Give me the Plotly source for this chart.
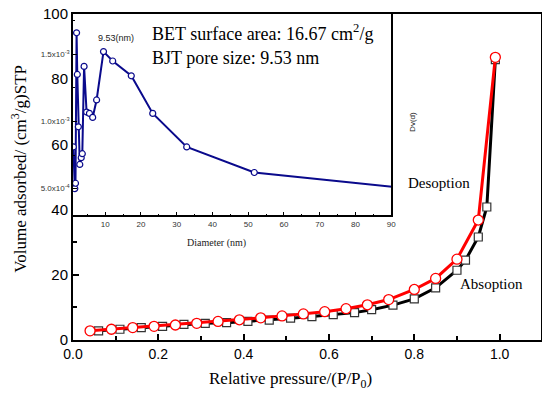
import plotly.graph_objects as go

# Main isotherm data
ads_p = [0.06, 0.11, 0.16, 0.21, 0.26, 0.31, 0.36, 0.41, 0.46, 0.51, 0.56, 0.61, 0.66, 0.70, 0.75, 0.80, 0.85, 0.90, 0.92, 0.95, 0.97, 0.99]
ads_v = [2.8, 3.3, 3.8, 4.2, 4.8, 5.1, 5.3, 5.7, 6.1, 6.7, 7.2, 7.8, 8.4, 9.3, 10.7, 12.6, 16.0, 21.4, 24.5, 31.6, 40.8, 86.0]
des_p = [0.04, 0.09, 0.14, 0.19, 0.24, 0.29, 0.34, 0.39, 0.44, 0.49, 0.54, 0.59, 0.64, 0.69, 0.74, 0.80, 0.85, 0.90, 0.95, 0.99]
des_v = [2.8, 3.3, 3.8, 4.2, 4.6, 5.1, 5.7, 6.2, 6.8, 7.4, 8.0, 8.7, 9.6, 10.8, 12.4, 15.5, 18.9, 24.8, 36.8, 86.7]

# Inset pore size distribution
diam = [1.1, 1.5, 1.7, 2.0, 2.2, 2.5, 2.9, 3.3, 3.6, 4.1, 4.8, 5.6, 6.5, 7.6, 9.53, 12.1, 17.3, 23.3, 32.8, 51.7, 95.0]
dv = [8.1e-4, 5.0e-4, 5.4e-4, 1.66e-3, 1.35e-3, 9.6e-4, 6.8e-4, 7.3e-4, 7.6e-4, 1.41e-3, 1.07e-3, 1.06e-3, 1.03e-3, 1.16e-3, 1.52e-3, 1.45e-3, 1.34e-3, 1.06e-3, 8.1e-4, 6.2e-4, 5.0e-4]

main_yticks = [0, 20, 40, 60, 80, 100]
main_xticks = [0.0, 0.2, 0.4, 0.6, 0.8, 1.0]
inset_xticks = [10, 20, 30, 40, 50, 60, 70, 80, 90]
inset_yticks = [5e-4, 1e-3, 1.5e-3]
inset_ytext = ["5.0x10<sup>-4</sup>", "1.0x10<sup>-3</sup>", "1.5x10<sup>-3</sup>"]

SERIF = "Liberation Serif"
SANS = "Liberation Sans"
NAVY = "#0a0a8c"

fig = go.Figure()
fig.add_trace(go.Scatter(x=ads_p, y=ads_v, mode="lines+markers",
                         line=dict(color="black", width=3),
                         marker=dict(symbol="square", size=8, color="white",
                                     line=dict(color="#333", width=1.2)),
                         xaxis="x", yaxis="y", showlegend=False))
fig.add_trace(go.Scatter(x=des_p, y=des_v, mode="lines+markers",
                         line=dict(color="#ff0000", width=3),
                         marker=dict(symbol="circle", size=10, color="white",
                                     line=dict(color="#ff0000", width=1.3)),
                         xaxis="x", yaxis="y", showlegend=False))
fig.add_trace(go.Scatter(x=diam, y=dv, mode="lines+markers",
                         line=dict(color=NAVY, width=2),
                         marker=dict(symbol="circle", size=6, color="white",
                                     line=dict(color=NAVY, width=1.2)),
                         xaxis="x2", yaxis="y2", showlegend=False))

axis_common = dict(showline=True, linecolor="black", mirror=True, ticks="inside",
                   tickcolor="black", showgrid=False, zeroline=False, automargin=False,
                   ticklabeloverflow="allow")

# page body has an 8px margin, so the figure is sized to fit inside the window
fig.update_layout(
    width=534, height=382,
    margin=dict(l=65, r=1, t=6, b=50, autoexpand=False),
    paper_bgcolor="white", plot_bgcolor="white",
    xaxis=dict(domain=[0, 1], range=[0, 1.097], tickvals=main_xticks,
               ticktext=[f"{v:.1f}" for v in main_xticks], linewidth=2, ticklen=6, tickwidth=1.5,
               minor=dict(dtick=0.1, ticks="inside", ticklen=4, tickcolor="black"),
               tickfont=dict(family=SANS, size=14, color="black"), **axis_common),
    yaxis=dict(domain=[0, 1], range=[0, 100], tickvals=main_yticks, linewidth=2, ticklen=6, tickwidth=1.5,
               minor=dict(dtick=10, ticks="inside", ticklen=4, tickcolor="black"),
               tickfont=dict(family=SANS, size=15, color="black"), **axis_common),
    xaxis2=dict(domain=[0, 0.68], range=[1, 90], anchor="y2", tickvals=inset_xticks,
                linewidth=1.5, ticklen=4, tickwidth=1.2,
                minor=dict(dtick=5, ticks="inside", ticklen=2, tickcolor="black"),
                tickfont=dict(family=SANS, size=8, color="#333"), **axis_common),
    yaxis2=dict(domain=[0.382, 1], range=[3e-4, 1.8e-3], anchor="x2", tickvals=inset_yticks,
                ticktext=inset_ytext, linewidth=1.5, ticklen=4, tickwidth=1.2,
                minor=dict(dtick=2.5e-4, ticks="inside", ticklen=2, tickcolor="black"),
                tickfont=dict(family=SANS, size=8, color="#333"), **axis_common),
)

ann = [
    dict(text="BET surface area: 16.67 cm<sup>2</sup>/g", x=0.18, y=94.2, xref="x", yref="y",
         xanchor="left", yanchor="middle", font=dict(family=SERIF, size=18, color="black")),
    dict(text="BJT pore size: 9.53 nm", x=0.18, y=86.5, xref="x", yref="y",
         xanchor="left", yanchor="middle", font=dict(family=SERIF, size=18, color="black")),
    dict(text="Desoption", x=0.858, y=48.3, xref="x", yref="y",
         font=dict(family=SERIF, size=15, color="black")),
    dict(text="Absoption", x=0.982, y=17.1, xref="x", yref="y",
         font=dict(family=SERIF, size=15, color="black")),
    dict(text="9.53(nm)", x=13.1, y=1.62e-3, xref="x2", yref="y2",
         font=dict(family=SANS, size=9, color="#222")),
    dict(text="Dv(d)", x=0.725, y=0.67, xref="paper", yref="paper", textangle=-90,
         font=dict(family=SANS, size=8, color="#222")),
    dict(text="Diameter (nm)", x=0.307, y=0.297, xref="paper", yref="paper",
         font=dict(family=SERIF, size=10, color="#222")),
    dict(text="Volume adsorbed/ (cm<sup>3</sup>/g)STP", x=-0.117, y=0.526, xref="paper", yref="paper",
         textangle=-90, font=dict(family=SERIF, size=17, color="black")),
    dict(text="Relative pressure/(P/P<sub>0</sub>)", x=0.465, y=-0.122, xref="paper", yref="paper",
         font=dict(family=SERIF, size=17, color="black")),
]
for a in ann:
    a.setdefault("showarrow", False)
    a.setdefault("xanchor", "center")
    a.setdefault("yanchor", "middle")
fig.update_layout(annotations=ann)

fig.write_html("out.html")
